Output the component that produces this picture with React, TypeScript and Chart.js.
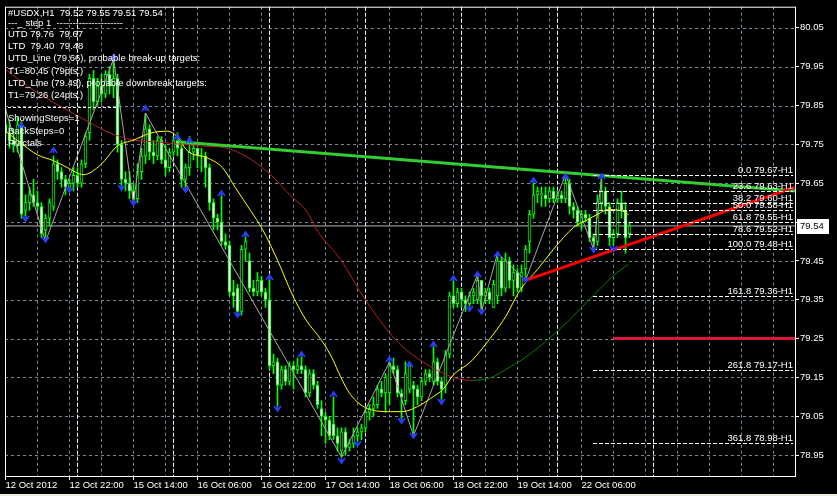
import React, { useEffect, useRef } from "react";
import { Chart, registerables } from "chart.js";
Chart.register(...registerables);

const FONT = "'Liberation Sans', Arial, sans-serif";

// ---- OHLC, hourly bars (index 0 = 12 Oct 2012 06:00) ----
const candleOpen = [
  79.80, 79.78, 79.76, 79.75, 79.80, 79.58, 79.60, 79.62, 79.60, 79.59,
  79.53, 79.56, 79.59, 79.70, 79.68, 79.66, 79.64, 79.65, 79.67, 79.65,
  79.70, 79.78, 79.92, 79.86, 79.90, 79.88, 79.93, 79.90, 79.92, 79.75,
  79.66, 79.65, 79.63, 79.61, 79.68, 79.72, 79.79, 79.73, 79.72, 79.76,
  79.71, 79.69, 79.73, 79.76, 79.74, 79.66, 79.69, 79.73, 79.74, 79.72,
  79.72, 79.69, 79.60, 79.56, 79.55, 79.50, 79.49, 79.37, 79.38, 79.32,
  79.48, 79.45, 79.38, 79.37, 79.40, 79.37, 79.35, 79.18, 79.19, 79.13,
  79.17, 79.14, 79.18, 79.17, 79.18, 79.17, 79.11, 79.16, 79.13, 79.07,
  79.05, 79.04, 79.03, 79.00, 78.96, 79.01, 78.97, 78.98, 79.00, 79.01,
  79.02, 79.06, 79.07, 79.08, 79.12, 79.11, 79.11, 79.18, 79.17, 79.11,
  79.09, 79.12, 79.13, 79.12, 79.10, 79.14, 79.16, 79.14, 79.19, 79.14,
  79.13, 79.21, 79.36, 79.34, 79.37, 79.35, 79.34, 79.36, 79.35, 79.40,
  79.36, 79.37, 79.33, 79.36, 79.45, 79.38, 79.45, 79.40, 79.42, 79.38,
  79.43, 79.50, 79.57, 79.62, 79.62, 79.62, 79.61, 79.63, 79.61, 79.62,
  79.61, 79.65, 79.59, 79.58, 79.55, 79.57, 79.56, 79.51, 79.50, 79.60,
  79.63, 79.59, 79.51, 79.52, 79.60, 79.58, 79.52,
];
const candleHigh = [
  79.84, 79.81, 79.79, 79.82, 79.81, 79.62, 79.64, 79.66, 79.63, 79.60,
  79.57, 79.61, 79.72, 79.71, 79.69, 79.67, 79.66, 79.69, 79.69, 79.71,
  79.78, 79.93, 79.94, 79.92, 79.93, 79.94, 79.95, 79.97, 79.93, 79.76,
  79.68, 79.68, 79.65, 79.70, 79.74, 79.83, 79.80, 79.76, 79.77, 79.77,
  79.75, 79.74, 79.77, 79.78, 79.75, 79.70, 79.77, 79.75, 79.74, 79.74,
  79.73, 79.70, 79.61, 79.57, 79.62, 79.52, 79.50, 79.40, 79.39, 79.49,
  79.52, 79.47, 79.40, 79.42, 79.41, 79.38, 79.41, 79.21, 79.20, 79.18,
  79.18, 79.19, 79.19, 79.20, 79.21, 79.18, 79.17, 79.17, 79.14, 79.09,
  79.06, 79.05, 79.10, 79.02, 79.02, 79.02, 78.99, 79.02, 79.02, 79.03,
  79.07, 79.08, 79.10, 79.13, 79.14, 79.16, 79.19, 79.20, 79.18, 79.12,
  79.19, 79.19, 79.14, 79.13, 79.15, 79.17, 79.17, 79.24, 79.20, 79.15,
  79.22, 79.37, 79.41, 79.38, 79.38, 79.36, 79.37, 79.38, 79.415, 79.40,
  79.38, 79.38, 79.40, 79.47, 79.46, 79.47, 79.46, 79.44, 79.43, 79.44,
  79.49, 79.58, 79.66, 79.64, 79.64, 79.64, 79.64, 79.64, 79.63, 79.63,
  79.673, 79.66, 79.60, 79.59, 79.58, 79.58, 79.57, 79.52, 79.62, 79.665,
  79.64, 79.60, 79.53, 79.61, 79.63, 79.60, 79.55,
];
const candleLow = [
  79.76, 79.74, 79.73, 79.73, 79.56, 79.56, 79.58, 79.59, 79.58, 79.51,
  79.50, 79.54, 79.58, 79.66, 79.64, 79.62, 79.63, 79.63, 79.64, 79.64,
  79.69, 79.76, 79.84, 79.85, 79.86, 79.87, 79.88, 79.87, 79.73, 79.64,
  79.63, 79.61, 79.60, 79.60, 79.66, 79.70, 79.71, 79.70, 79.71, 79.70,
  79.67, 79.68, 79.72, 79.72, 79.64, 79.63, 79.67, 79.71, 79.69, 79.68,
  79.64, 79.58, 79.53, 79.53, 79.49, 79.48, 79.36, 79.33, 79.31, 79.31,
  79.45, 79.37, 79.36, 79.36, 79.36, 79.33, 79.17, 79.16, 79.07, 79.12,
  79.13, 79.13, 79.12, 79.16, 79.16, 79.10, 79.10, 79.12, 79.07, 79.00,
  78.98, 78.99, 78.99, 78.96, 78.945, 78.95, 78.96, 78.97, 78.985, 78.99,
  79.01, 79.04, 79.05, 79.07, 79.10, 79.06, 79.08, 79.16, 79.10, 79.04,
  79.08, 79.11, 79.00, 79.08, 79.09, 79.13, 79.14, 79.13, 79.13, 79.09,
  79.11, 79.20, 79.33, 79.33, 79.33, 79.32, 79.33, 79.34, 79.34, 79.32,
  79.34, 79.34, 79.33, 79.34, 79.36, 79.37, 79.38, 79.36, 79.37, 79.37,
  79.40, 79.47, 79.56, 79.60, 79.59, 79.59, 79.60, 79.60, 79.60, 79.60,
  79.60, 79.57, 79.56, 79.54, 79.53, 79.55, 79.50, 79.48, 79.49, 79.58,
  79.57, 79.49, 79.49, 79.51, 79.56, 79.47, 79.51,
];
const candleClose = [
  79.78, 79.76, 79.75, 79.80, 79.57, 79.60, 79.62, 79.60, 79.59, 79.52,
  79.56, 79.60, 79.70, 79.68, 79.66, 79.64, 79.65, 79.67, 79.65, 79.70,
  79.77, 79.92, 79.86, 79.90, 79.88, 79.93, 79.90, 79.92, 79.75, 79.66,
  79.65, 79.63, 79.61, 79.68, 79.72, 79.79, 79.73, 79.72, 79.76, 79.71,
  79.69, 79.73, 79.76, 79.74, 79.66, 79.69, 79.73, 79.74, 79.72, 79.72,
  79.69, 79.60, 79.56, 79.55, 79.50, 79.49, 79.37, 79.36, 79.32, 79.48,
  79.50, 79.38, 79.37, 79.40, 79.37, 79.35, 79.18, 79.19, 79.13, 79.17,
  79.14, 79.18, 79.17, 79.18, 79.17, 79.11, 79.16, 79.13, 79.08, 79.05,
  79.04, 79.00, 79.00, 78.98, 79.01, 78.97, 78.98, 79.00, 79.01, 79.02,
  79.06, 79.07, 79.08, 79.12, 79.11, 79.15, 79.18, 79.17, 79.11, 79.10,
  79.16, 79.18, 79.12, 79.10, 79.14, 79.16, 79.15, 79.19, 79.14, 79.12,
  79.21, 79.36, 79.34, 79.37, 79.35, 79.34, 79.36, 79.37, 79.40, 79.36,
  79.37, 79.35, 79.39, 79.45, 79.38, 79.45, 79.40, 79.42, 79.38, 79.42,
  79.48, 79.57, 79.62, 79.63, 79.62, 79.61, 79.63, 79.61, 79.62, 79.61,
  79.65, 79.59, 79.58, 79.55, 79.57, 79.56, 79.51, 79.50, 79.60, 79.63,
  79.59, 79.51, 79.52, 79.60, 79.58, 79.51, 79.54,
];

// ---- axes ----
const xTickIdx = [0, 16, 32, 48, 64, 80, 96, 112, 128, 144];
const xTickLabels = [
  "12 Oct 2012", "12 Oct 22:00", "15 Oct 14:00", "16 Oct 06:00", "16 Oct 22:00",
  "17 Oct 14:00", "18 Oct 06:00", "18 Oct 22:00", "19 Oct 14:00", "22 Oct 06:00",
];
const yTickValues = [78.95, 79.05, 79.15, 79.25, 79.35, 79.45, 79.55, 79.65, 79.75, 79.85, 79.95, 80.05];
const gridIdx = [8, 16, 24, 32, 40, 48, 56, 64, 72, 80, 88, 96, 104, 112, 120, 128, 136, 144, 152, 160, 168, 176, 184, 192];
const daySeparatorIdx = [18, 42, 66, 90, 114, 138, 162];

// ---- indicators ----
const fastMaIdx = [0, 3.75, 8, 12, 15.5, 19.5, 23.75, 28, 32, 36.25, 40.5, 43, 45.5, 50.5, 54.25, 57.5, 61.25, 64.25, 68, 71.75, 75, 79.25, 81.75, 83.75, 86.25, 90.5, 96.25, 99.25, 103, 106.25, 109.5, 112, 116.25, 122, 125, 128.75, 133, 137, 142, 145.5, 148.75, 150.5, 153.75, 155.75];
const fastMaVal = [79.784, 79.754, 79.723, 79.708, 79.690, 79.672, 79.697, 79.746, 79.761, 79.779, 79.784, 79.769, 79.733, 79.715, 79.690, 79.638, 79.580, 79.531, 79.452, 79.362, 79.300, 79.242, 79.198, 79.152, 79.106, 79.070, 79.062, 79.062, 79.075, 79.096, 79.121, 79.157, 79.190, 79.262, 79.306, 79.377, 79.428, 79.480, 79.536, 79.556, 79.574, 79.582, 79.580, 79.569];
const slowMaDownIdx = [0, 7, 13.75, 21.25, 26.25, 32, 38, 43, 48.75, 55, 60, 65.75, 71.75, 75, 78.25, 83.75, 89.5, 98, 106.25, 113, 117];
const slowMaDownVal = [79.943, 79.889, 79.848, 79.805, 79.779, 79.761, 79.756, 79.751, 79.746, 79.741, 79.720, 79.677, 79.613, 79.582, 79.523, 79.454, 79.357, 79.242, 79.178, 79.147, 79.142];
const slowMaUpIdx = [117, 121.25, 125, 131.25, 136.25, 140.5, 147, 153, 155.75];
const slowMaUpVal = [79.142, 79.149, 79.170, 79.211, 79.254, 79.293, 79.362, 79.421, 79.441];
const zigzagIdx = [0, 10, 27, 32, 35, 84, 96, 102, 118, 119, 123, 130, 140, 147, 149];
const zigzagVal = [79.84, 79.50, 79.97, 79.60, 79.83, 78.945, 79.19, 79.00, 79.415, 79.32, 79.47, 79.40, 79.673, 79.48, 79.665];
const fracUpIdx = [4, 12, 27, 35, 43, 46, 54, 60, 66, 74, 82, 96, 101, 107, 112, 118, 123, 132, 140, 149];
const fracUpVal = [79.800, 79.736, 79.976, 79.843, 79.769, 79.761, 79.626, 79.518, 79.408, 79.211, 79.108, 79.198, 79.185, 79.237, 79.405, 79.416, 79.469, 79.659, 79.669, 79.669];
const fracDnIdx = [5, 10, 16, 29, 32, 45, 58, 68, 84, 88, 99, 102, 109, 116, 119, 130, 147, 152];
const fracDnVal = [79.559, 79.505, 79.633, 79.638, 79.600, 79.633, 79.311, 79.068, 78.934, 78.978, 79.037, 78.998, 79.088, 79.326, 79.318, 79.400, 79.477, 79.480];

// trend lines (UTD / LTD), target level, bid
const utdIdx = [43, 197.375];
const utdVal = [79.757, 79.63];
const ltdIdx = [130, 197.375];
const ltdVal = [79.40, 79.64];
const targetIdx = [152, 197.375];
const targetVal = [79.25, 79.25];
const bidPrice = 79.54;

// fibonacci
const fibLevels = ["0.0", "23.6", "38.2", "50.0", "61.8", "78.6", "100.0", "161.8", "261.8", "361.8"];
const fibPrices = [79.67, 79.63, 79.60, 79.58, 79.55, 79.52, 79.48, 79.36, 79.17, 78.98];
const fibStartIdx = 147;
const fibEndIdx = 196.9;

const infoLines = [
  "#USDX,H1  79.52 79.55 79.51 79.54",
  "---_ step 1  ---------------------",
  "UTD 79.76  79.67",
  "LTD  79.40  79.48",
  "UTD_Line (79.66), probable break-up targets:",
  "T1=80.45 (79pts.)",
  "LTD_Line (79.49), probable downbreak targets:",
  "T1=79.26 (24pts.)",
];
const infoLines2 = ["ShowingSteps=1", "BackSteps=0", "Fractals"];

const pairs = (xs: number[], ys: number[]) => xs.map((x, i) => ({ x, y: ys[i] }));

const bgPlugin = {
  id: "bg",
  beforeDraw(chart: any) {
    const { ctx, width, height } = chart;
    ctx.save();
    ctx.fillStyle = "#000000";
    ctx.fillRect(0, 0, width, height);
    ctx.fillStyle = "#ECE9D8";
    ctx.fillRect(0, height - 2, width, 2);
    ctx.restore();
  },
};

const gridPlugin = {
  id: "mtgrid",
  beforeDatasetsDraw(chart: any) {
    const { ctx, chartArea: a, scales } = chart;
    const xs = scales.x, ys = scales.y;
    ctx.save();
    ctx.lineWidth = 1;
    ctx.strokeStyle = "#778899";
    ctx.setLineDash([3, 3]);
    yTickValues.forEach((v) => {
      const y = Math.round(ys.getPixelForValue(v)) + 0.5;
      ctx.beginPath(); ctx.moveTo(a.left, y); ctx.lineTo(a.right, y); ctx.stroke();
    });
    gridIdx.forEach((i) => {
      const x = Math.floor(xs.getPixelForValue(i)) + 0.5;
      ctx.beginPath(); ctx.moveTo(x, a.top); ctx.lineTo(x, a.bottom); ctx.stroke();
    });
    ctx.strokeStyle = "#FFFFFF";
    ctx.setLineDash([4, 2]);
    daySeparatorIdx.forEach((i) => {
      const x = Math.floor(xs.getPixelForValue(i)) + 0.5;
      ctx.beginPath(); ctx.moveTo(x, a.top); ctx.lineTo(x, a.bottom); ctx.stroke();
    });
    ctx.restore();
  },
};

const overlayPlugin = {
  id: "overlay",
  afterDatasetsDraw(chart: any) {
    const { ctx, scales } = chart;
    const xs = scales.x, ys = scales.y;
    ctx.save();
    // fibonacci levels
    const fx1 = Math.floor(xs.getPixelForValue(fibStartIdx));
    const fx2 = Math.floor(xs.getPixelForValue(fibEndIdx));
    ctx.font = `9.5px ${FONT}`;
    ctx.textAlign = "right";
    ctx.textBaseline = "alphabetic";
    fibPrices.forEach((p, k) => {
      const y = Math.round(ys.getPixelForValue(p)) + 0.5;
      ctx.strokeStyle = "#FFFFFF";
      ctx.lineWidth = 1;
      ctx.setLineDash([4, 2]);
      ctx.beginPath(); ctx.moveTo(fx1, y); ctx.lineTo(fx2, y); ctx.stroke();
      ctx.fillStyle = "#FFFFFF";
      ctx.fillText(`${fibLevels[k]} ${p.toFixed(2)}-H1`, fx2, y - 3);
    });
    ctx.setLineDash([]);
    // fractal arrows
    ctx.strokeStyle = "#2A3CFF";
    ctx.lineWidth = 1.6;
    fracUpIdx.forEach((i, k) => {
      const x = Math.floor(xs.getPixelForValue(i)) + 0.5;
      const y = Math.round(ys.getPixelForValue(fracUpVal[k]));
      ctx.beginPath();
      ctx.moveTo(x - 3.5, y + 3); ctx.lineTo(x, y - 2); ctx.lineTo(x + 3.5, y + 3);
      ctx.moveTo(x, y - 2); ctx.lineTo(x, y + 3);
      ctx.stroke();
    });
    fracDnIdx.forEach((i, k) => {
      const x = Math.floor(xs.getPixelForValue(i)) + 0.5;
      const y = Math.round(ys.getPixelForValue(fracDnVal[k]));
      ctx.beginPath();
      ctx.moveTo(x - 3.5, y - 3); ctx.lineTo(x, y + 2); ctx.lineTo(x + 3.5, y - 3);
      ctx.moveTo(x, y + 2); ctx.lineTo(x, y - 3);
      ctx.stroke();
    });
    ctx.restore();
  },
  afterDraw(chart: any) {
    const { ctx, chartArea: a, scales } = chart;
    const ys = scales.y;
    ctx.save();
    // frame
    ctx.strokeStyle = "#FFFFFF";
    ctx.lineWidth = 1;
    ctx.strokeRect(a.left + 0.5, a.top + 0.5, a.right - a.left, a.bottom - a.top);
    // info text
    ctx.fillStyle = "#FFFFFF";
    ctx.font = `9.5px ${FONT}`;
    ctx.textAlign = "left";
    ctx.textBaseline = "middle";
    const lineYs = [13, 23.5, 34.5, 46.5, 58.5, 71, 83, 95];
    infoLines.forEach((t, k) => ctx.fillText(t, 8, lineYs[k]));
    ctx.strokeStyle = "#FFFFFF";
    ctx.setLineDash([3, 2]);
    ctx.beginPath(); ctx.moveTo(8, 107.5); ctx.lineTo(117, 107.5); ctx.stroke();
    ctx.setLineDash([]);
    const lineYs2 = [118.5, 131, 143];
    infoLines2.forEach((t, k) => ctx.fillText(t, 8, lineYs2[k]));
    // current price box
    const py = Math.round(ys.getPixelForValue(bidPrice));
    ctx.fillStyle = "#FFFFFF";
    ctx.fillRect(a.right + 2, py - 7, 32, 15);
    ctx.fillStyle = "#000000";
    ctx.fillText(bidPrice.toFixed(2), a.right + 5, py + 0.5);
    ctx.restore();
  },
};

export default function App() {
  const ref = useRef<HTMLCanvasElement>(null);
  useEffect(() => {
    document.body.style.margin = "0";
    document.body.style.background = "#000";
    const canvas = ref.current!;
    const wickData = candleOpen.map((_, i) => ({ x: i, y: [candleLow[i], candleHigh[i]] }));
    const bodyData = candleOpen.map((o, i) => ({ x: i, y: [o, candleClose[i]] }));
    const lineBase = { type: "line" as const, pointRadius: 0, borderWidth: 1, fill: false, tension: 0 };
    const chart = new Chart(canvas, {
      type: "bar",
      data: {
        datasets: [
          { ...lineBase, data: [{ x: -0.125, y: bidPrice }, { x: 197.375, y: bidPrice }], borderColor: "#B4B4B4", order: 20 } as any,
          { type: "bar", data: wickData, backgroundColor: "#00FF00", barThickness: 1, grouped: false, order: 12 } as any,
          {
            type: "bar", data: bodyData, grouped: false, order: 11, barThickness: 3, minBarLength: 1,
            borderWidth: 1, borderSkipped: false, borderColor: "#00FF00",
            backgroundColor: candleOpen.map((o, i) => (candleClose[i] < o ? "#FFFFFF" : "#000000")),
          } as any,
          { ...lineBase, data: pairs(zigzagIdx, zigzagVal), borderColor: "#A8A8A8", order: 8 } as any,
          { ...lineBase, data: pairs(slowMaDownIdx, slowMaDownVal), borderColor: "#B22222", cubicInterpolationMode: "monotone", order: 7 } as any,
          { ...lineBase, data: pairs(slowMaUpIdx, slowMaUpVal), borderColor: "#008000", cubicInterpolationMode: "monotone", order: 7 } as any,
          { ...lineBase, data: pairs(fastMaIdx, fastMaVal), borderColor: "#FFFF00", cubicInterpolationMode: "monotone", order: 6 } as any,
          { ...lineBase, data: pairs(targetIdx, targetVal), borderColor: "#DC143C", borderWidth: 3, order: 5 } as any,
          { ...lineBase, data: pairs(utdIdx, utdVal), borderColor: "#32CD32", borderWidth: 3, order: 4 } as any,
          { ...lineBase, data: pairs(ltdIdx, ltdVal), borderColor: "#FF0000", borderWidth: 3, order: 3 } as any,
        ],
      },
      options: {
        animation: false,
        responsive: false,
        devicePixelRatio: 1,
        layout: { padding: { left: 5, top: 3, right: 0, bottom: 0 } },
        plugins: { legend: { display: false }, tooltip: { enabled: false } },
        scales: {
          x: {
            type: "linear",
            position: "bottom",
            min: -0.125,
            max: 197.375,
            offset: false,
            afterBuildTicks: (s: any) => { s.ticks = xTickIdx.map((v) => ({ value: v })); },
            afterFit: (s: any) => { s.height = 20; },
            ticks: {
              autoSkip: false, maxRotation: 0, minRotation: 0, align: "start", padding: 0,
              color: "#FFFFFF", font: { family: FONT, size: 9.5 },
              callback: (_v: any, idx: number) => xTickLabels[idx],
            },
            grid: { display: true, offset: false, drawOnChartArea: false, drawTicks: true, tickLength: 4, tickColor: "#FFFFFF", color: "#FFFFFF" },
            border: { display: false },
          } as any,
          y: {
            type: "linear",
            position: "right",
            min: 78.8963,
            max: 80.1044,
            afterBuildTicks: (s: any) => { s.ticks = yTickValues.map((v) => ({ value: v })); },
            afterFit: (s: any) => { s.width = 42; },
            ticks: {
              padding: 1, color: "#FFFFFF", font: { family: FONT, size: 9.5 },
              callback: (v: any) => Number(v).toFixed(2),
            },
            grid: { display: true, drawOnChartArea: false, drawTicks: true, tickLength: 4, tickColor: "#FFFFFF", color: "#FFFFFF" },
            border: { display: false },
          } as any,
        },
      },
      plugins: [bgPlugin, gridPlugin, overlayPlugin],
    } as any);
    return () => chart.destroy();
  }, []);
  return (
    <canvas ref={ref} width={837} height={496} style={{ display: "block", width: 837, height: 496 }} />
  );
}
